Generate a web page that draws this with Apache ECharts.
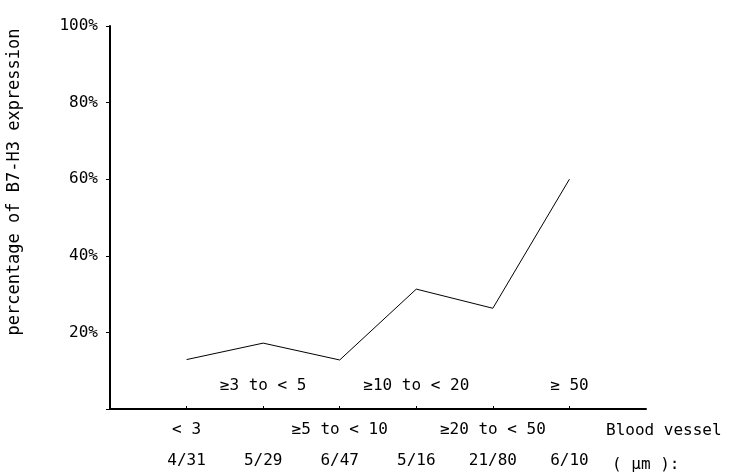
<!DOCTYPE html>
<html>
<head>
<meta charset="utf-8">
<script src="https://cdn.jsdelivr.net/npm/echarts@6/dist/echarts.min.js"></script>
<style>
  html, body { margin: 0; padding: 0; background: #fff; }
  #main { width: 732px; height: 472px; }
</style>
</head>
<body>
<div id="main"></div>
<script>
// categories (blank slots at both ends so the axis runs past the first/last point)
var categories = ['', '< 3', '≥3 to < 5', '≥5 to < 10', '≥10 to < 20', '≥20 to < 50', '≥ 50', ''];
var counts = ['', '4/31', '5/29', '6/47', '5/16', '21/80', '6/10', ''];
var percents = [null, 12.9, 17.2, 12.8, 31.3, 26.3, 60, null];
var yTicks = [0, 20, 40, 60, 80, 100];

var font = 'DejaVu Sans Mono';
var fs = 16;
var myChart = echarts.init(document.getElementById('main'));

var option = {
  animation: false,
  backgroundColor: '#fff',
  grid: { left: 110, right: 86, top: 26, bottom: 63 },
  xAxis: [
    {
      // lower row labels (odd categories)
      type: 'category',
      data: categories,
      boundaryGap: false,
      axisLine: { lineStyle: { color: '#000', width: 2 } },
      axisTick: { show: true, length: 3, inside: true, lineStyle: { color: '#000' },
        interval: function (i) { return i > 0 && i < categories.length - 1; } },
      axisLabel: {
        interval: 0, margin: 13, color: '#000', fontFamily: font, fontSize: fs,
        formatter: function (v, i) { return i % 2 === 1 ? v : ''; }
      },
      splitLine: { show: false }
    },
    {
      // upper row labels (even categories), drawn above the axis
      type: 'category',
      data: categories,
      boundaryGap: false,
      position: 'bottom',
      axisLine: { show: false },
      axisTick: { show: false },
      axisLabel: {
        inside: true, interval: 0, margin: 15, color: '#000', fontFamily: font, fontSize: fs,
        formatter: function (v, i) { return i % 2 === 0 ? v : ''; }
      },
      splitLine: { show: false }
    },
    {
      // counts row
      type: 'category',
      data: counts,
      boundaryGap: false,
      position: 'bottom',
      offset: 36,
      axisLine: { show: false },
      axisTick: { show: false },
      axisLabel: { interval: 0, margin: 8, color: '#000', fontFamily: font, fontSize: fs },
      splitLine: { show: false }
    }
  ],
  yAxis: {
    type: 'value',
    min: yTicks[0],
    max: yTicks[yTicks.length - 1],
    interval: 20,
    axisLine: { show: true, lineStyle: { color: '#000', width: 2 } },
    axisTick: { show: true, length: 4, lineStyle: { color: '#000' } },
    axisLabel: {
      color: '#000', fontFamily: font, fontSize: fs, margin: 12,
      formatter: function (v) { return v === 0 ? '' : v + '%'; }
    },
    splitLine: { show: false }
  },
  graphic: [
    {
      type: 'text', x: 15, y: 182, rotation: Math.PI / 2,
      style: {
        text: 'percentage of B7-H3 expression',
        fill: '#000', font: (fs + 1) + 'px "' + font + '"',
        align: 'center', verticalAlign: 'middle'
      }
    },
    {
      type: 'text', x: 606, y: 431,
      style: { text: 'Blood vessel diameter', fill: '#000', font: fs + 'px "' + font + '"', verticalAlign: 'middle' }
    },
    {
      type: 'text', x: 612, y: 465,
      style: { text: '( μm ):', fill: '#000', font: fs + 'px "' + font + '"', verticalAlign: 'middle' }
    }
  ],
  series: [{
    type: 'line',
    data: percents,
    symbol: 'none',
    lineStyle: { color: '#000', width: 1 },
    connectNulls: false
  }]
};

myChart.setOption(option);
</script>
</body>
</html>
